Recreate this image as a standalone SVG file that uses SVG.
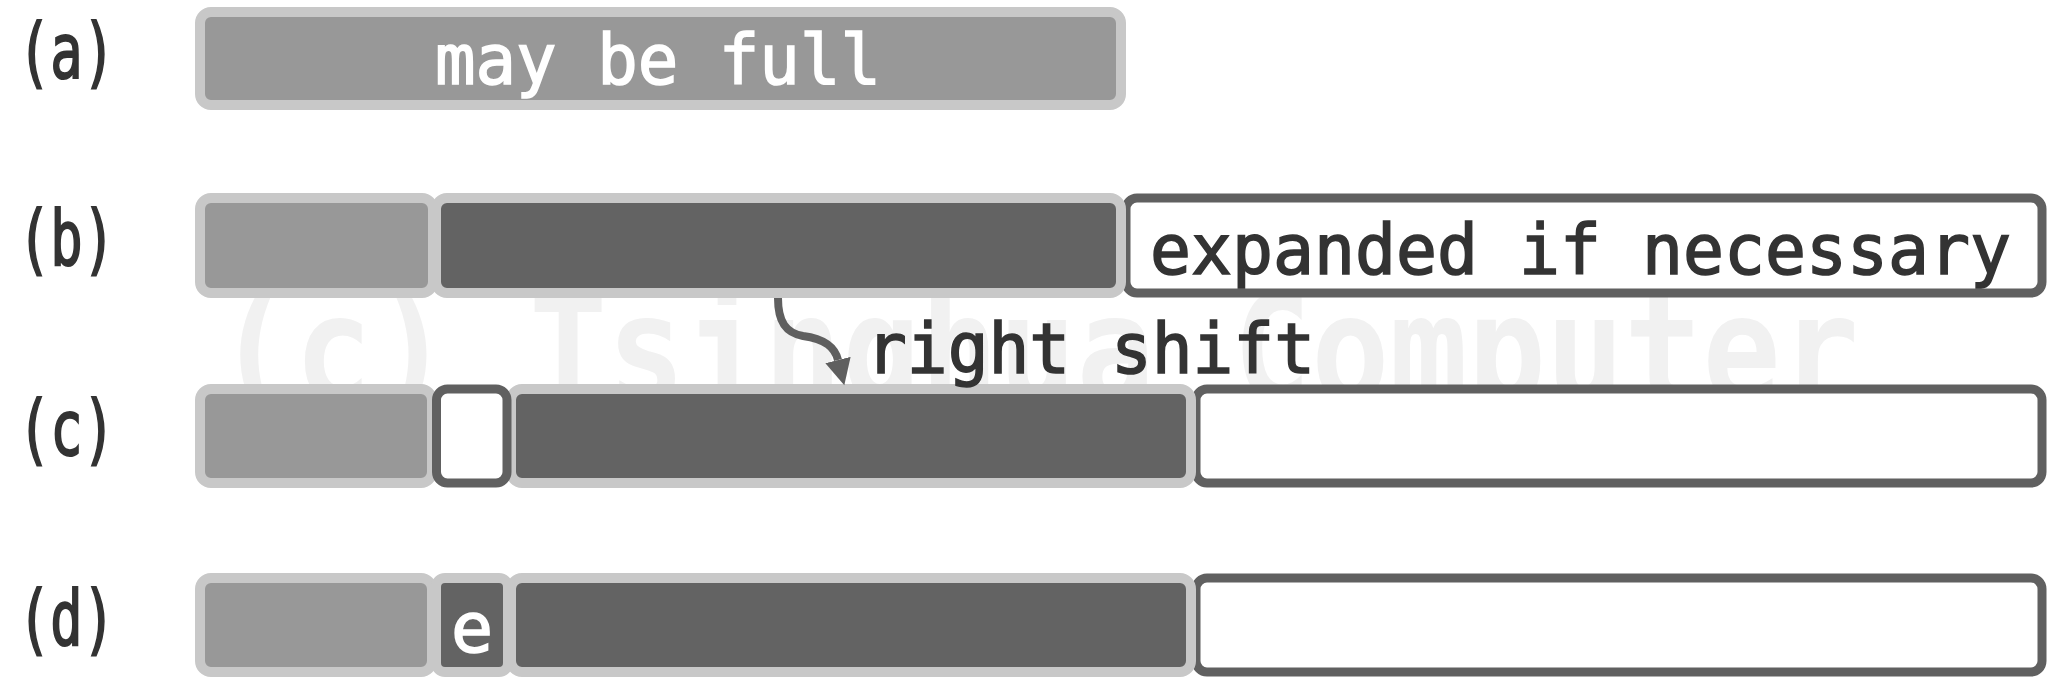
<svg xmlns="http://www.w3.org/2000/svg" width="2068" height="684" viewBox="0 0 2068 684">
<style>
.t{font-family:"DejaVu Sans Mono","Liberation Mono",monospace;font-size:70px}
.lbl{fill:#333333;stroke:#333333;stroke-width:1.6}
.big{font-size:76px;stroke-width:2}
.wt{fill:#ffffff;stroke:#ffffff;stroke-width:1.6}
.lt{fill:#989898;stroke:#c8c8c8;stroke-width:10}
.dk{fill:#636363;stroke:#c8c8c8;stroke-width:10}
.wh{fill:#ffffff;stroke:#606060;stroke-width:9}
.wm{font-family:"DejaVu Sans Mono","Liberation Mono",monospace;font-size:150px;font-weight:bold;fill:#f1f1f1}
</style>
<defs>
<marker id="ah" markerUnits="userSpaceOnUse" markerWidth="30" markerHeight="30" refX="0" refY="13" orient="auto">
<path d="M0,0 L26,13 L0,26 Z" fill="#5f5f5f"/>
</marker>
</defs>
<rect width="2068" height="684" fill="#ffffff"/>
<text class="wm" x="216" y="402" textLength="1643" lengthAdjust="spacingAndGlyphs">(c) Tsinghua Computer</text>
<g id="labels">
<text class="t lbl big" x="18" y="78" textLength="97" lengthAdjust="spacingAndGlyphs">(a)</text>
<text class="t lbl big" x="18" y="265" textLength="97" lengthAdjust="spacingAndGlyphs">(b)</text>
<text class="t lbl big" x="18" y="455" textLength="97" lengthAdjust="spacingAndGlyphs">(c)</text>
<text class="t lbl big" x="18" y="645" textLength="97" lengthAdjust="spacingAndGlyphs">(d)</text>
</g>
<g id="row-a">
<rect class="lt" x="200" y="12" width="921" height="93" rx="11"/>
<text class="t wt" x="435" y="84" textLength="446" lengthAdjust="spacingAndGlyphs">may be full</text>
</g>
<g id="row-b">
<g id="b-expand">
<rect class="wh" x="1126" y="198" width="916" height="95" rx="11"/>
<text class="t lbl" x="1150" y="274" textLength="861" lengthAdjust="spacingAndGlyphs">expanded if necessary</text>
</g>
<rect id="b-free" class="lt" x="200" y="198" width="233" height="95" rx="11"/>
<rect id="b-data" class="dk" x="436" y="198" width="685" height="95" rx="11"/>
</g>
<g id="row-c">
<rect id="c-expand" class="wh" x="1196" y="389" width="846" height="94" rx="11"/>
<rect id="c-free" class="lt" x="200" y="389" width="232" height="94" rx="11"/>
<rect id="c-data" class="dk" x="511" y="389" width="680" height="94" rx="11"/>
<rect id="c-slot" class="wh" x="436.5" y="389" width="70.5" height="94" rx="11"/>
</g>
<g id="row-d">
<rect id="d-expand" class="wh" x="1196" y="578" width="846" height="94" rx="11"/>
<rect id="d-free" class="lt" x="200" y="578" width="232" height="94" rx="11"/>
<rect id="d-data" class="dk" x="511" y="578" width="680" height="94" rx="11"/>
<g id="d-e">
<rect class="dk" x="436" y="578" width="72" height="94" rx="9"/>
<text class="t wt" x="472" y="652" text-anchor="middle">e</text>
</g>
</g>
<g id="connectors">
<path d="M778,298 C778,322 786,333 803,336 C826,339 835,348 838,360" fill="none" stroke="#5f5f5f" stroke-width="8" marker-end="url(#ah)"/>
</g>
<text class="t lbl" x="866" y="373" textLength="449" lengthAdjust="spacingAndGlyphs">right shift</text>
</svg>
